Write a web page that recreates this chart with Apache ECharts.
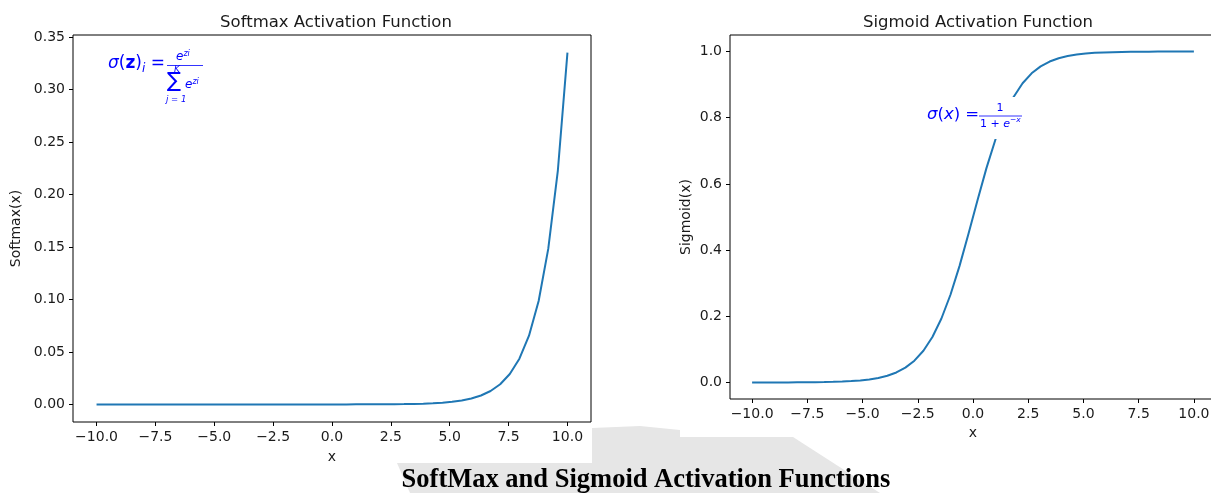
<!DOCTYPE html>
<html>
<head>
<meta charset="utf-8">
<script src="https://cdn.jsdelivr.net/npm/echarts@6/dist/echarts.min.js"></script>
<style>
  html, body { margin: 0; padding: 0; background: #fff; }
  #main { width: 1211px; height: 493px; }
</style>
</head>
<body>
<div id="main"></div>
<script>
// x samples (50 points from -10 to 10)
var xs = [-10.000, -9.592, -9.184, -8.776, -8.367, -7.959, -7.551, -7.143, -6.735, -6.327,
          -5.918, -5.510, -5.102, -4.694, -4.286, -3.878, -3.469, -3.061, -2.653, -2.245,
          -1.837, -1.429, -1.020, -0.612, -0.204, 0.204, 0.612, 1.020, 1.429, 1.837,
          2.245, 2.653, 3.061, 3.469, 3.878, 4.286, 4.694, 5.102, 5.510, 5.918,
          6.327, 6.735, 7.143, 7.551, 7.959, 8.367, 8.776, 9.184, 9.592, 10.000];

var softmaxVals = [0, 0, 0, 0, 0, 0, 0, 0, 0, 0,
                   0, 0, 0, 0, 0, 0, 0, 0, 0, 0,
                   0.000002, 0.000004, 0.000006, 0.000008, 0.000012, 0.000019, 0.000028, 0.000042, 0.000064, 0.000096,
                   0.000144, 0.000216, 0.000325, 0.000489, 0.000735, 0.001105, 0.001663, 0.002501, 0.003761, 0.005657,
                   0.008508, 0.012797, 0.019247, 0.028949, 0.043541, 0.065488, 0.098497, 0.148145, 0.222818, 0.335130];

var sigmoidVals = [0.0000454, 0.0000683, 0.000103, 0.000154, 0.000232, 0.000349, 0.000525, 0.00079, 0.00119, 0.00179,
                   0.00268, 0.00403, 0.00605, 0.00906, 0.0136, 0.0203, 0.0302, 0.0447, 0.0658, 0.0958,
                   0.1374, 0.1933, 0.2650, 0.3516, 0.4492, 0.5508, 0.6484, 0.7350, 0.8067, 0.8626,
                   0.9042, 0.9342, 0.9553, 0.9698, 0.9797, 0.9864, 0.9909, 0.9940, 0.9960, 0.9973,
                   0.9982, 0.9988, 0.9992, 0.9995, 0.9997, 0.9998, 0.9999, 0.9999, 0.9999, 1.0000];

var xTicks = [-10, -7.5, -5, -2.5, 0, 2.5, 5, 7.5, 10];
var softmaxTicks = [0, 0.05, 0.10, 0.15, 0.20, 0.25, 0.30, 0.35];
var sigmoidTicks = [0, 0.2, 0.4, 0.6, 0.8, 1.0];

function pairs(a, b) {
    var out = [];
    for (var i = 0; i < a.length; i++) out.push([a[i], b[i]]);
    return out;
}
function fmt(d) {
    return function (v) { return v.toFixed(d).replace('-', '\u2212'); };
}

var FONT = 'DejaVu Sans';
var tickStyle = { show: true, length: 4, lineStyle: { color: '#000', width: 1 } };
var labelBase = { color: '#1a1a1a', fontFamily: FONT, fontSize: 14 };
var blue = '#0000ff';

function xAxisCfg(idx, gap) {
    return {
        type: 'value', gridIndex: idx, min: -11, max: 11,
        name: 'x', nameLocation: 'middle', nameGap: gap,
        nameTextStyle: { color: '#1a1a1a', fontFamily: FONT, fontSize: 14 },
        axisLine: { show: false, onZero: false },
        axisTick: Object.assign({ customValues: xTicks }, tickStyle),
        axisLabel: Object.assign({ customValues: xTicks, formatter: fmt(1), margin: 8 }, labelBase),
        splitLine: { show: false }
    };
}
function yAxisCfg(idx, min, max, ticks, dec, name, gap) {
    return {
        type: 'value', gridIndex: idx, min: min, max: max,
        name: name, nameLocation: 'middle', nameGap: gap,
        nameTextStyle: { color: '#1a1a1a', fontFamily: FONT, fontSize: 14 },
        axisLine: { show: false, onZero: false },
        axisTick: Object.assign({ customValues: ticks }, tickStyle),
        axisLabel: Object.assign({ customValues: ticks, formatter: fmt(dec), margin: 8 }, labelBase),
        splitLine: { show: false }
    };
}

var myChart = echarts.init(document.getElementById('main'));
var option = {
    backgroundColor: '#fff',
    animation: false,
    title: [
        { text: 'Softmax Activation Function', left: 331, top: 9, textAlign: 'center',
          textStyle: { fontFamily: FONT, fontSize: 16.5, fontWeight: 'normal', color: '#1a1a1a' } },
        { text: 'Sigmoid Activation Function', left: 973, top: 9, textAlign: 'center',
          textStyle: { fontFamily: FONT, fontSize: 16.5, fontWeight: 'normal', color: '#1a1a1a' } }
    ],
    grid: [
        { left: 73, top: 35, width: 518, height: 387, show: true, borderColor: '#000', borderWidth: 1,
          containLabel: false, outerBoundsMode: 'none' },
        { left: 730, top: 35, width: 486, height: 364, show: true, borderColor: '#000', borderWidth: 1,
          containLabel: false, outerBoundsMode: 'none' }
    ],
    xAxis: [xAxisCfg(0, 28), xAxisCfg(1, 27)],
    yAxis: [
        yAxisCfg(0, -0.01676, 0.3519, softmaxTicks, 2, 'Softmax(x)', 50),
        yAxisCfg(1, -0.05, 1.05, sigmoidTicks, 1, 'Sigmoid(x)', 37)
    ],
    series: [
        { type: 'line', xAxisIndex: 0, yAxisIndex: 0, data: pairs(xs, softmaxVals),
          showSymbol: false, symbol: 'none', lineStyle: { color: '#1f77b4', width: 2 } },
        { type: 'line', xAxisIndex: 1, yAxisIndex: 1, data: pairs(xs, sigmoidVals),
          showSymbol: false, symbol: 'none', lineStyle: { color: '#1f77b4', width: 2 } }
    ],
    graphic: [
        // light grey backdrop behind the caption
        { type: 'polygon', z: -10, silent: true,
          shape: { points: [[397, 463], [592, 463], [592, 428], [640, 426], [680, 430], [680, 437],
                            [793, 437], [880, 493], [410, 493]] },
          style: { fill: '#e6e6e6' } },
        // softmax formula
        { type: 'text', x: 108, y: 64, style: {
            text: '{it|σ}{n|(}{b|z}{n|)}{sub|i}{n| =}', verticalAlign: 'middle', fill: blue,
            rich: {
                it: { fontFamily: FONT, fontSize: 17, fontStyle: 'italic', fill: blue },
                n: { fontFamily: FONT, fontSize: 17, fill: blue },
                b: { fontFamily: FONT, fontSize: 17, fontWeight: 'bold', fill: blue },
                sub: { fontFamily: FONT, fontSize: 12, fontStyle: 'italic', fill: blue, padding: [10, 0, 0, 0] }
            } } },
        { type: 'text', x: 176, y: 57, style: { text: '{e|e}{s|zi}', verticalAlign: 'middle', rich: {
            e: { fontFamily: FONT, fontSize: 12, fontStyle: 'italic', fill: blue },
            s: { fontFamily: FONT, fontSize: 8, fontStyle: 'italic', fill: blue, padding: [0, 0, 7, 0] } } } },
        { type: 'line', shape: { x1: 167, y1: 65.5, x2: 203, y2: 65.5 }, style: { stroke: blue, lineWidth: 0.8 } },
        { type: 'text', x: 174, y: 70, style: { text: 'K', fontFamily: FONT, fontSize: 9, fontStyle: 'italic', fill: blue, verticalAlign: 'middle' } },
        { type: 'text', x: 167, y: 82, style: { text: '∑', fontFamily: FONT, fontSize: 21, fill: blue, verticalAlign: 'middle' } },
        { type: 'text', x: 185, y: 85, style: { text: '{e|e}{s|zi}', verticalAlign: 'middle', rich: {
            e: { fontFamily: FONT, fontSize: 12, fontStyle: 'italic', fill: blue },
            s: { fontFamily: FONT, fontSize: 8, fontStyle: 'italic', fill: blue, padding: [0, 0, 7, 0] } } } },
        { type: 'text', x: 166, y: 100, style: { text: 'j = 1', fontFamily: FONT, fontSize: 8.5, fontStyle: 'italic', fill: blue, verticalAlign: 'middle' } },
        // sigmoid formula with white box
        { type: 'rect', z: 100, shape: { x: 922, y: 97, width: 104, height: 42 }, style: { fill: '#fff' } },
        { type: 'text', z: 101, x: 927, y: 115, style: {
            text: '{it|σ}{n|(}{it|x}{n|) =}', verticalAlign: 'middle', rich: {
                it: { fontFamily: FONT, fontSize: 16.5, fontStyle: 'italic', fill: blue },
                n: { fontFamily: FONT, fontSize: 16.5, fill: blue } } } },
        { type: 'text', z: 101, x: 1000, y: 108, style: { text: '1', fontFamily: FONT, fontSize: 11, fill: blue, align: 'center', verticalAlign: 'middle' } },
        { type: 'line', z: 101, shape: { x1: 979, y1: 116, x2: 1022, y2: 116 }, style: { stroke: blue, lineWidth: 0.8 } },
        { type: 'text', z: 101, x: 980, y: 124, style: { text: '{n|1 + }{it|e}{s|−x}', verticalAlign: 'middle', rich: {
            n: { fontFamily: FONT, fontSize: 11, fill: blue },
            it: { fontFamily: FONT, fontSize: 11, fontStyle: 'italic', fill: blue },
            s: { fontFamily: FONT, fontSize: 7.5, fontStyle: 'italic', fill: blue, padding: [0, 0, 7, 0] } } } },
        // caption
        { type: 'text', x: 646, y: 480, style: {
            text: 'SoftMax and Sigmoid Activation Functions', align: 'center', verticalAlign: 'middle',
            fontFamily: 'Liberation Serif', fontWeight: 'bold', fontSize: 26.5, fill: '#000' } }
    ]
};
myChart.setOption(option);
</script>
</body>
</html>
